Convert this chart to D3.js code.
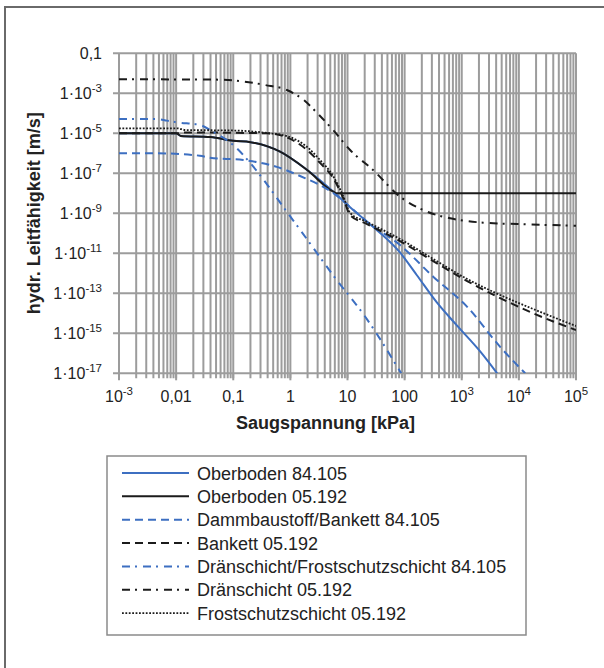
<!DOCTYPE html>
<html>
<head>
<meta charset="utf-8">
<script src="https://cdn.jsdelivr.net/npm/d3@7"></script>
<style>
  html, body { margin: 0; padding: 0; background: #fff; }
  svg { display: block; font-family: "Liberation Sans", Arial, sans-serif; }
</style>
</head>
<body>
<svg id="chart" width="604" height="668"></svg>
<script>
// Suction [kPa] vs. hydraulic conductivity [m/s], pairs [kPa, k]
const oberboden84 = [[0.001,1e-5],[0.01,1e-5],[0.012,7.4e-6],[0.04,6.5e-6],[0.1,4.2e-6],[0.2,3.6e-6],[0.66,1.2e-6],[1.94,1.5e-7],[5.66,1.2e-8],[11.1,2e-9],[22,3.8e-10],[83,1.1e-11],[164,8e-13],[366,3.5e-14],[820,2.5e-15],[2100,1.25e-16],[4170,1e-17]];
const oberboden05 = [[0.001,1e-5],[0.01,1e-5],[0.012,7.4e-6],[0.04,6.5e-6],[0.1,4.2e-6],[0.2,3.6e-6],[0.66,1.2e-6],[1.94,1.5e-7],[5.66,1.2e-8],[6.6,1e-8],[1e5,1e-8]];
const dammbaustoff84 = [[0.001,1e-6],[0.0046,1e-6],[0.026,7.6e-7],[0.039,6e-7],[0.15,4.6e-7],[0.58,2.1e-7],[1.48,7.3e-8],[5.6,1.04e-8],[11.1,2.1e-9],[22,3.8e-10],[83,2.6e-11],[316,6.8e-13],[1245,2.1e-14],[4700,2.1e-16],[12900,1e-17]];
const bankett05 = [[0.001,1e-5],[0.01,1e-5],[0.015,1.1e-5],[0.39,1e-5],[0.87,6.2e-6],[1.96,1.46e-6],[3.3,3.3e-7],[5.6,5.8e-8],[8.4,5.8e-9],[11.1,8.2e-10],[22,2.9e-10],[83,4.1e-11],[316,4.1e-12],[1245,4.1e-13],[4700,5.8e-14],[17800,1e-14],[1e5,1.46e-15]];
const draenFrost84 = [[0.001,5.2e-5],[0.0046,5.2e-5],[0.0069,4.3e-5],[0.0105,3.5e-5],[0.026,2.6e-5],[0.044,1.2e-5],[0.1,2.6e-6],[0.2,3.2e-7],[0.39,2.8e-8],[0.74,2.2e-9],[1.48,1.5e-10],[5.6,8e-13],[22,5e-15],[87,1e-17]];
const draen05 = [[0.001,5e-3],[0.039,4.9e-3],[0.13,4.1e-3],[0.36,2.6e-3],[0.87,1.46e-3],[1.8,4.1e-4],[2.94,1.04e-4],[5.6,1.46e-5],[11.1,1.46e-6],[28,1.46e-7],[83,6.8e-9],[248,1.2e-9],[627,5.6e-10],[2370,3.4e-10],[9330,2.9e-10],[1e5,2.4e-10]];
const frost05 = [[0.001,1.78e-5],[0.0105,1.78e-5],[0.0145,1.46e-5],[0.1,1.38e-5],[0.39,1.04e-5],[0.87,7.3e-6],[1.96,2.07e-6],[3.3,4.6e-7],[5.6,7.3e-8],[8.4,7.3e-9],[11.1,1.04e-9],[22,3.7e-10],[83,5.2e-11],[316,5.2e-12],[1245,5.2e-13],[4700,8.2e-14],[17800,1.64e-14],[1e5,2.3e-15]];

const seriesNames = ["Oberboden 84.105","Oberboden 05.192","Dammbaustoff/Bankett 84.105","Bankett 05.192","Dränschicht/Frostschutzschicht 84.105","Dränschicht 05.192","Frostschutzschicht 05.192"];
const seriesData = [oberboden84, oberboden05, dammbaustoff84, bankett05, draenFrost84, draen05, frost05];

const xTickValues = [1e-3,1e-2,1e-1,1,10,100,1e3,1e4,1e5];
const xTickLabels = ["10^-3","0,01","0,1","1","10","100","10^3","10^4","10^5"];
const yTickValues = [1e-1,1e-3,1e-5,1e-7,1e-9,1e-11,1e-13,1e-15,1e-17];
const yTickLabels = ["0,1","1·10^-3","1·10^-5","1·10^-7","1·10^-9","1·10^-11","1·10^-13","1·10^-15","1·10^-17"];

const xTitle = "Saugspannung [kPa]";
const yTitle = "hydr. Leitfähigkeit [m/s]";

const BLUE = "#3d6fc1", BLACK = "#1b1b1b", GRID = "#9c9c9c";
const styles = [
  {color: BLUE,  dash: null,        width: 2},
  {color: BLACK, dash: null,        width: 2},
  {color: BLUE,  dash: "8,5",       width: 2},
  {color: BLACK, dash: "8,5",       width: 2},
  {color: BLUE,  dash: "8,5,2,6",   width: 2},
  {color: BLACK, dash: "8,5,2,6",   width: 2},
  {color: BLACK, dash: "1.8,1.6",   width: 1.8}
];

const svg = d3.select("#chart");

// outer frame
svg.append("rect").attr("x", 5).attr("y", 7).attr("width", 640).attr("height", 700)
  .attr("fill", "none").attr("stroke", "#6a6a6a").attr("stroke-width", 2);

const plot = {left: 119, right: 576, top: 53.3, bottom: 373.3};
const x = d3.scaleLog().domain([1e-3, 1e5]).range([plot.left, plot.right]);
const y = d3.scaleLog().domain([1e-17, 1e-1]).range([plot.bottom, plot.top]);

// vertical grid at every decade subdivision
const xGrid = [];
for (let d = -3; d < 5; d++) for (let m = 1; m < 10; m++) xGrid.push(m * Math.pow(10, d));
xGrid.push(1e5);

const grid = svg.append("g");
grid.selectAll("line.v").data(xGrid).join("line")
  .attr("x1", d => x(d)).attr("x2", d => x(d))
  .attr("y1", plot.top).attr("y2", plot.bottom + 5)
  .attr("stroke", GRID).attr("stroke-width", 2);
grid.selectAll("line.h").data(yTickValues).join("line")
  .attr("x1", plot.left - 6).attr("x2", plot.right)
  .attr("y1", d => y(d)).attr("y2", d => y(d))
  .attr("stroke", GRID).attr("stroke-width", 2);
// x axis major ticks slightly longer
grid.selectAll("line.t").data(xTickValues).join("line")
  .attr("x1", d => x(d)).attr("x2", d => x(d))
  .attr("y1", plot.bottom).attr("y2", plot.bottom + 7)
  .attr("stroke", GRID).attr("stroke-width", 2);

function superLabel(sel, str, supSize, supDy) {
  const parts = str.split("^");
  sel.append("tspan").text(parts[0]);
  if (parts.length > 1) {
    sel.append("tspan").attr("font-size", supSize).attr("dy", supDy).text(parts[1]);
  }
}

// y tick labels
yTickValues.forEach((v, i) => {
  const t = svg.append("text")
    .attr("x", 102).attr("y", y(v) + 5.5)
    .attr("text-anchor", "end").attr("font-size", 16).attr("fill", "#222");
  superLabel(t, yTickLabels[i], 11.5, -6.5);
});

// x tick labels
xTickValues.forEach((v, i) => {
  const t = svg.append("text")
    .attr("x", x(v)).attr("y", 402)
    .attr("text-anchor", "middle").attr("font-size", 16).attr("fill", "#222");
  superLabel(t, xTickLabels[i], 11.5, -7);
});

svg.append("text").attr("x", (plot.left + plot.right) / 2 - 22).attr("y", 429)
  .attr("text-anchor", "middle").attr("font-size", 18).attr("font-weight", "bold")
  .attr("fill", "#222").text(xTitle);
svg.append("text")
  .attr("transform", `translate(40,${(plot.top + plot.bottom) / 2}) rotate(-90)`)
  .attr("text-anchor", "middle").attr("font-size", 18).attr("font-weight", "bold")
  .attr("fill", "#222").text(yTitle);

// curves
const line = d3.line().x(d => x(d[0])).y(d => y(d[1])).curve(d3.curveMonotoneX);
const clip = svg.append("clipPath").attr("id", "plotclip").append("rect")
  .attr("x", plot.left).attr("y", plot.top - 2)
  .attr("width", plot.right - plot.left).attr("height", plot.bottom - plot.top + 2);
const curves = svg.append("g").attr("clip-path", "url(#plotclip)");
seriesData.forEach((data, i) => {
  curves.append("path").datum(data).attr("d", line)
    .attr("fill", "none").attr("stroke", styles[i].color)
    .attr("stroke-width", styles[i].width)
    .attr("stroke-dasharray", styles[i].dash);
});

// legend
const lg = svg.append("g");
lg.append("rect").attr("x", 107).attr("y", 456).attr("width", 419).attr("height", 179)
  .attr("fill", "#fff").attr("stroke", "#8a8a8a").attr("stroke-width", 1.5);
seriesNames.forEach((name, i) => {
  const cy = 473 + i * 23.35;
  lg.append("line").attr("x1", 122).attr("x2", 189).attr("y1", cy).attr("y2", cy)
    .attr("stroke", styles[i].color).attr("stroke-width", styles[i].width)
    .attr("stroke-dasharray", styles[i].dash);
  lg.append("text").attr("x", 197).attr("y", cy + 6.5)
    .attr("font-size", 18).attr("fill", "#222").text(name);
});
</script>
</body>
</html>
